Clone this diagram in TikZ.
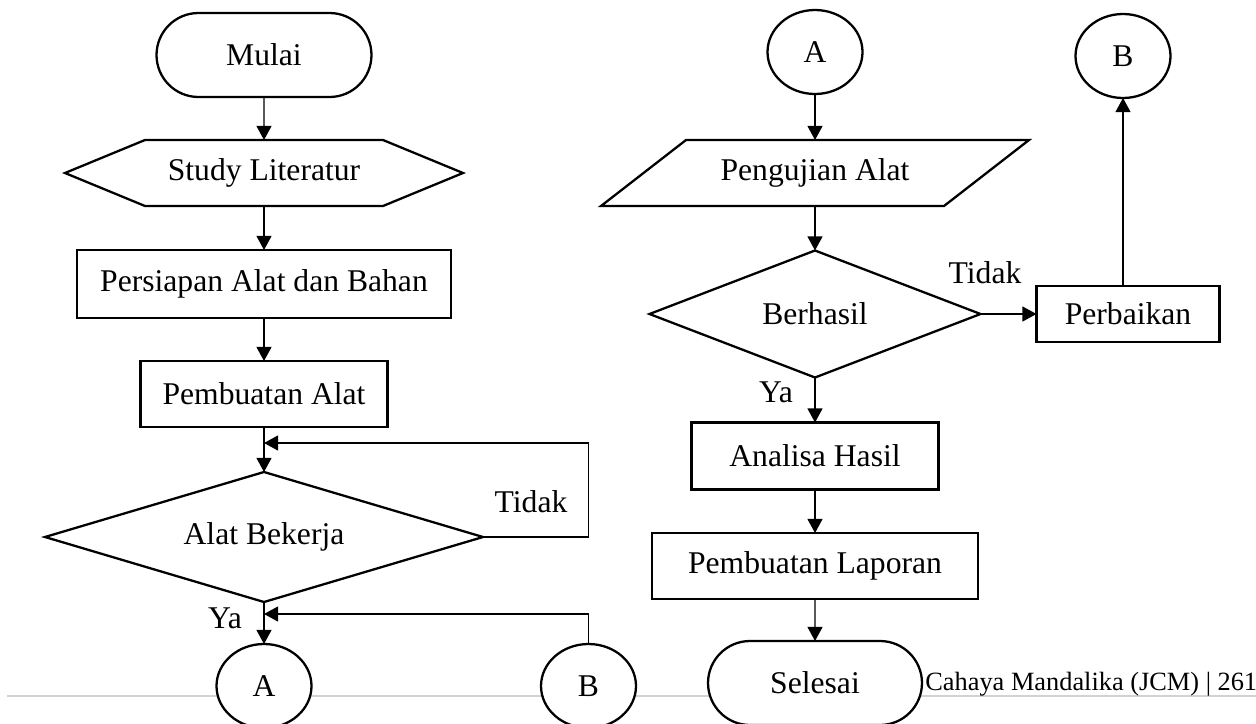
\documentclass[tikz,border=0pt]{standalone}
\usepackage{fontspec}
\setmainfont{Liberation Serif}
\usetikzlibrary{shapes.geometric, shapes.misc, arrows.meta, positioning, calc}

\begin{document}
\begin{tikzpicture}[
        font=\fontsize{18}{21}\selectfont,
        base/.style={draw=black, line width=1.3pt, fill=white, inner sep=2pt, outer sep=0pt, align=center},
        term/.style={base, rounded rectangle, minimum width=4.44cm, minimum height=1.68cm},
        proc/.style={base, rectangle, minimum height=1.32cm},
        conn/.style={base, ellipse, minimum width=1.9cm, minimum height=1.68cm},
        frame/.style={rectangle, inner sep=0pt, outer sep=0pt, minimum height=1.32cm},
        edge/.style={line width=1.3pt, line join=miter},
        arrow/.style={-{Triangle[length=8pt, width=8.5pt]}, line width=0.75pt},
        lbl/.style={inner sep=0pt}
    ]
        \useasboundingbox (0,0) rectangle (25.12,-14.46);

        % Page rule
        \draw[gray!35, line width=0.9pt] (0.14,-13.92) -- (25.12,-13.92);

        % Left column
        \node[term] (mulai) at (5.28,-1.10) {Mulai};
        \node[frame, minimum width=7.96cm] (studi) at (5.28,-3.46) {Study Literatur};
        \node[proc, minimum width=7.48cm, minimum height=1.36cm] (persiapan) at (5.28,-5.68) {Persiapan Alat dan Bahan};
        \node[proc, minimum width=4.94cm] (buatalat) at (5.28,-7.88) {Pembuatan Alat};
        \node[frame, minimum width=8.76cm, minimum height=2.6cm] (bekerja) at (5.28,-10.74) {Alat Bekerja};
        \node[conn] (akiri) at (5.28,-13.72) {A};
        \node[conn] (bkiri) at (11.77,-13.72) {B};
        \coordinate (loopin) at (5.28,-8.86);
        \coordinate (yain) at (5.28,-12.28);

        % Hexagon and diamond outlines
        \draw[edge] (studi.west) -- ($(studi.north west)+(1.6,0)$) -- ($(studi.north east)-(1.6,0)$)
            -- (studi.east) -- ($(studi.south east)-(1.6,0)$) -- ($(studi.south west)+(1.6,0)$) -- cycle;
        \draw[edge] (bekerja.west) -- (bekerja.north) -- (bekerja.east) -- (bekerja.south) -- cycle;

        % Right column
        \node[conn] (akanan) at (16.3,-1.04) {A};
        \node[conn] (bkanan) at (22.46,-1.12) {B};
        \node[frame, minimum width=5.12cm] (uji) at (16.3,-3.46) {Pengujian Alat};
        \node[frame, minimum width=6.62cm, minimum height=2.54cm] (berhasil) at (16.3,-6.28) {Berhasil};
        \node[proc, minimum width=3.66cm, minimum height=1.12cm] (perbaikan) at (22.56,-6.28) {Perbaikan};
        \node[proc, minimum width=4.94cm, minimum height=1.34cm] (analisa) at (16.3,-9.12) {Analisa Hasil};
        \node[proc, minimum width=6.52cm] (laporan) at (16.3,-11.32) {Pembuatan Laporan};
        \node[term, minimum width=4.42cm] (selesai) at (16.3,-13.66) {Selesai};

        % Parallelogram and diamond outlines
        \draw[edge] ($(uji.south west)+(-1.72,0)$) -- ($(uji.north west)+(-0.02,0)$)
            -- ($(uji.north east)+(1.72,0)$) -- ($(uji.south east)+(0.02,0)$) -- cycle;
        \draw[edge] (berhasil.west) -- (berhasil.north) -- (berhasil.east) -- (berhasil.south) -- cycle;

        % Arrows left
        \draw[arrow] (mulai) -- (studi);
        \draw[arrow] (studi) -- (persiapan);
        \draw[arrow] (persiapan) -- (buatalat);
        \draw[arrow] (buatalat) -- (bekerja);
        \draw[arrow] (bekerja.east) -| (11.77,-8.86) -- (loopin);
        \draw[arrow] (bekerja.south) -- (akiri.north);
        \draw[arrow] (bkiri.north) |- (yain);

        % Arrows right
        \draw[arrow] (akanan) -- (uji);
        \draw[arrow] (uji) -- (berhasil);
        \draw[arrow] (berhasil.east) -- (perbaikan.west);
        \draw[arrow] (perbaikan.north -| bkanan) -- (bkanan.south);
        \draw[arrow] (berhasil.south) -- (analisa.north);
        \draw[arrow] (analisa) -- (laporan);
        \draw[arrow] (laporan) -- (selesai);

        % Labels
        \node[lbl] (tidakkiri) at (10.62,-10.04) {Tidak};
        \node[lbl] (yakiri) at (4.5,-12.36) {Ya};
        \node[lbl] (tidakkanan) at (19.7,-5.46) {Tidak};
        \node[lbl] (yakanan) at (15.52,-7.84) {Ya};
        \node[lbl, anchor=base west, font=\fontsize{15}{18}\selectfont] (footer) at (18.5,-13.8) {Cahaya Mandalika (JCM) | 261};
    \end{tikzpicture}
\end{document}
